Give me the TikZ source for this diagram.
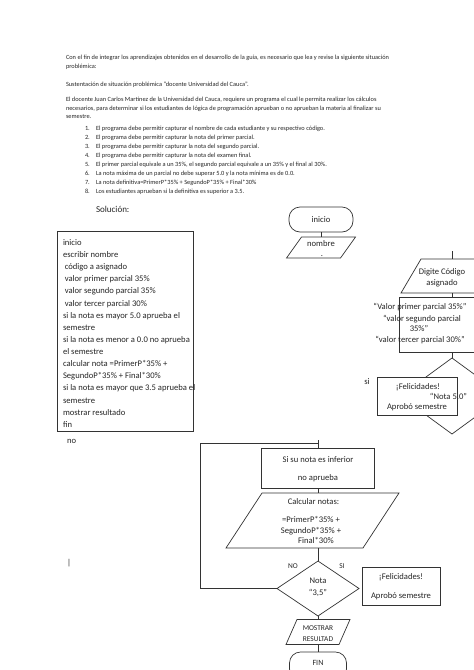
\documentclass[tikz,border=0pt]{standalone}
\usepackage{fontspec}
\setmainfont{Carlito}
\usetikzlibrary{shapes.geometric,calc}
\newcommand\drawpara[2]{\draw[ln] ($(#1.north west)+(#2,0)$) -- (#1.north east) -- ($(#1.south east)+(-#2,0)$) -- (#1.south west) -- cycle;}
\begin{document}
\begin{tikzpicture}[x=1pt,y=-1pt,
  every node/.style={inner sep=0pt,outer sep=0pt,text=black!85},
  ln/.style={line width=0.7pt,draw=black!80},
  tinytxt/.style={font=\fontsize{6.35}{9}\selectfont,anchor=mid west},
  ft/.style={font=\fontsize{8.6}{11}\selectfont},
  ftl/.style={ft,anchor=mid west},
  ftc/.style={ft,anchor=mid},
  fts/.style={font=\fontsize{7.4}{9}\selectfont,anchor=mid}]
\useasboundingbox (0,0) rectangle (474,670);
\fill[white] (0,0) rectangle (474,670);

% ---- top text
\node[tinytxt] (t1) at (66,57.5) {Con el fin de integrar los aprendizajes obtenidos en el desarrollo de la guía, es necesario que lea y revise la siguiente situación};
\node[tinytxt] (t2) at (66,66.5) {problémica:};
\node[tinytxt] (t3) at (66,84) {Sustentación de situación problémica “docente Universidad del Cauca”.};
\node[tinytxt] (t4) at (66,99) {El docente Juan Carlos Martínez de la Universidad del Cauca, requiere un programa el cual le permita realizar los cálculos};
\node[tinytxt] (t5) at (66,108) {necesarios, para determinar si los estudiantes de lógica de programación aprueban o no aprueban la materia al finalizar su};
\node[tinytxt] (t6) at (66,116.5) {semestre.};
\foreach \k in {1,...,8}{\node[tinytxt] (n\k) at (85,{128.5+8.9*(\k-1)}) {\k.};}
\node[tinytxt] (i1) at (96,128.5) {El programa debe permitir capturar el nombre de cada estudiante y su respectivo código.};
\node[tinytxt] (i2) at (96,137.4) {El programa debe permitir capturar la nota del primer parcial.};
\node[tinytxt] (i3) at (96,146.3) {El programa debe permitir capturar la nota del segundo parcial.};
\node[tinytxt] (i4) at (96,155.2) {El programa debe permitir capturar la nota del examen final.};
\node[tinytxt] (i5) at (96,164.1) {El primer parcial equivale a un 35\%, el segundo parcial equivale a un 35\% y el final al 30\%.};
\node[tinytxt] (i6) at (96,173) {La nota máxima de un parcial no debe superar 5.0 y la nota mínima es de 0.0.};
\node[tinytxt] (i7) at (96,181.9) {La nota definitiva=PrimerP*35\% + SegundoP*35\% + Final*30\%};
\node[tinytxt] (i8) at (96,190.8) {Los estudiantes aprueban si la definitiva es superior a 3.5.};

\node[font=\fontsize{9}{11}\selectfont,anchor=mid west] (sol) at (96,210) {Solución:};

% ---- pseudocode box
\node[ln,minimum width=136,minimum height=200,anchor=north west] (pseudo) at (57,231) {};
\foreach \txt [count=\i from 0] in {inicio,escribir nombre,\hspace{1.8pt}código a asignado,\hspace{1.8pt}valor primer parcial 35\%,\hspace{1.8pt}valor segundo parcial 35\%,\hspace{1.8pt}valor tercer parcial 30\%,si la nota es mayor 5.0 aprueba el,semestre,si la nota es menor a 0.0 no aprueba,el semestre,calcular nota =PrimerP*35\% +,SegundoP*35\% + Final*30\%,si la nota es mayor que 3.5 aprueba el,semestre,mostrar resultado,fin}
  {\node[ftl] (p\i) at (63,{243+12.13*\i}) {\txt};}

\node[ftl] (no1) at (67,441) {no};
\node[ftl] (bar1) at (67,563) {|};

% ---- upper right flow
\node[ln,rounded corners=11,minimum width=64,minimum height=25,ft] (inicio) at (321,219.5) {inicio};
\node[minimum width=69,minimum height=21] (nombre) at (321,247.5) {};
\drawpara{nombre}{15}
\node[ftc] (nombreT) at (321,244) {nombre};
\node[ftc] (nombreD) at (322,254.5) {.};
\draw[ln] (inicio.south) -- (nombre.north);

\coordinate (c1) at (452,251);
\node[minimum width=102,minimum height=34] (digite) at (452,276) {};
\drawpara{digite}{20}
\node[ftc] (digT1) at (442,272.5) {Digite Código};
\node[ftc] (digT2) at (442,283) {asignado};
\draw[ln] (c1) -- (digite.north);

\node[ln,minimum width=106,minimum height=55] (valores) at (452,324.5) {};
\draw[ln] (digite.south) -- (valores.north);
\node[ftc] (v1) at (420,307.5) {“Valor primer parcial 35\%”};
\node[ftc] (v2) at (422,319) {“valor segundo parcial};
\node[ftc] (v3) at (419,329.5) {35\%”};
\node[ftc] (v4) at (420,340.5) {“valor tercer parcial 30\%”};

\node[diamond,ln,minimum width=104,minimum height=76] (d1) at (452,396) {};
\draw[ln] (valores.south) -- (d1.north);
\node[ln,fill=white,minimum width=80,minimum height=38] (fel1) at (417,396) {};
\node[ftc] (fel1a) at (418,387.5) {¡Felicidades!};
\node[ftc] (nota5) at (448.5,397.5) {“Nota 5.0”};
\node[ftc] (fel1b) at (417,407) {Aprobó semestre};
\node[ftc] (si1) at (367,382) {si};

% ---- lower flow
\node[ln,minimum width=113,minimum height=40] (inf) at (318,468) {};
\node[ftc] (inf1) at (318,460) {Si su nota es inferior};
\node[ftc] (inf2) at (318,478) {no aprueba};

\node[minimum width=173,minimum height=55] (calc) at (312.5,520.5) {};
\drawpara{calc}{36}
\node[ftc] (calc1) at (313.5,502) {Calcular notas:};
\node[ftc] (calc2) at (311,520.5) {=PrimerP*35\% +};
\node[ftc] (calc3) at (311,531) {SegundoP*35\% +};
\node[ftc] (calc4) at (316,541.5) {Final*30\%};
\draw[ln] (inf.south) -- (inf.south |- calc.north);

\node[diamond,ln,minimum width=82,minimum height=55] (d2) at (318,588.5) {};
\draw[ln] (d2.north |- calc.south) -- (d2.north);
\node[ftc] (notaA) at (318,581) {Nota};
\node[ftc] (notaB) at (318,593) {“3,5”};
\node[fts] (noL) at (293,566) {NO};
\node[fts] (siL) at (342,566) {SI};

\node[ln,minimum width=78,minimum height=38] (fel2) at (401,586) {};
\node[ftc] (fel2a) at (401,577.5) {¡Felicidades!};
\node[ftc] (fel2b) at (401,596) {Aprobó semestre};

\coordinate (lb) at (200,588.5);
\coordinate (lt) at (200,443);
\coordinate (lj) at (318,443);
\coordinate (stub) at (318,440);
\draw[ln] (d2.west) -- (lb) -- (lt) -- (lj);
\draw[ln] (stub) -- (inf.north);

\node[minimum width=64,minimum height=25] (mostrar) at (318,632) {};
\drawpara{mostrar}{11}
\node[fts] (m1) at (318,628.5) {MOSTRAR};
\node[fts] (m2) at (318,639.5) {RESULTAD};
\draw[ln] (d2.south) -- (mostrar.north);

\node[ln,rounded corners=11,minimum width=57,minimum height=28,anchor=north] (fin) at (318,652) {};
\node[font=\fontsize{8}{10}\selectfont,anchor=mid] (finT) at (318,663) {FIN};
\draw[ln] (mostrar.south) -- (fin.north);
\end{tikzpicture}
\end{document}
